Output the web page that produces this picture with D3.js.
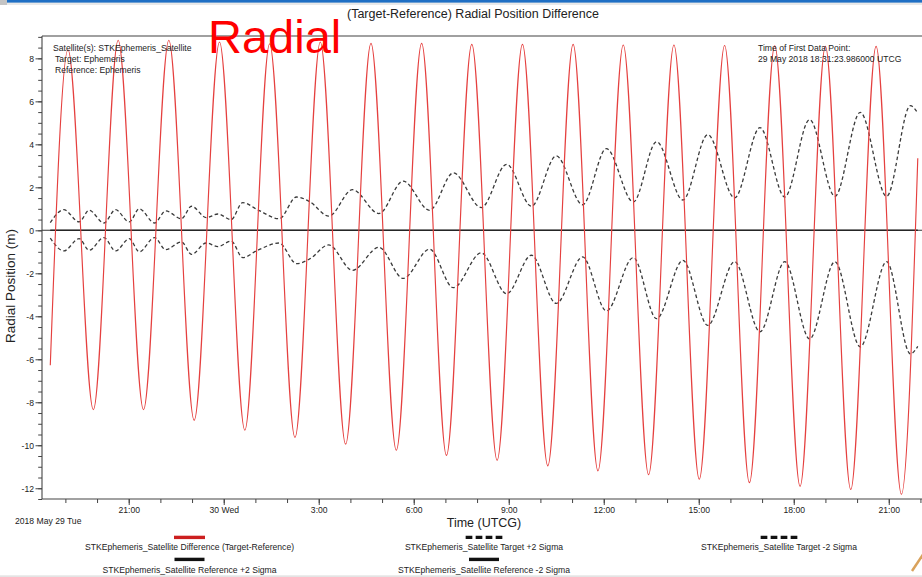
<!DOCTYPE html>
<html>
<head>
<meta charset="utf-8">
<script src="https://cdn.jsdelivr.net/npm/d3@7"></script>
<style>
  html, body { margin: 0; padding: 0; background: #fff; overflow: hidden; }
  svg { display: block; font-family: "Liberation Sans", Arial, sans-serif; }
</style>
</head>
<body>
<svg id="chart" width="922" height="577"></svg>
<script>
// (Target-Reference) radial position difference for STKEphemeris_Satellite,
// with the target and reference 2-sigma envelopes.

// Difference (Target-Reference): first point, then alternating peaks / troughs, last point
const diffTimes = [
  "2018-05-29 18:31:24",
  "2018-05-29 19:05", "2018-05-29 19:53",
  "2018-05-29 20:40", "2018-05-29 21:28",
  "2018-05-29 22:16", "2018-05-29 23:04",
  "2018-05-29 23:52", "2018-05-30 00:40",
  "2018-05-30 01:27", "2018-05-30 02:15",
  "2018-05-30 03:03", "2018-05-30 03:51",
  "2018-05-30 04:39", "2018-05-30 05:27",
  "2018-05-30 06:15", "2018-05-30 07:02",
  "2018-05-30 07:50", "2018-05-30 08:38",
  "2018-05-30 09:26", "2018-05-30 10:14",
  "2018-05-30 11:02", "2018-05-30 11:49",
  "2018-05-30 12:37", "2018-05-30 13:25",
  "2018-05-30 14:13", "2018-05-30 15:01",
  "2018-05-30 15:49", "2018-05-30 16:36",
  "2018-05-30 17:24", "2018-05-30 18:12",
  "2018-05-30 19:00", "2018-05-30 19:48",
  "2018-05-30 20:36", "2018-05-30 21:24",
  "2018-05-30 21:55"
];
const diffValues = [
  -6.28,
  8.40, -8.34, 8.84, -8.34, 8.84, -8.84, 8.76, -9.30, 8.68, -9.64,
  8.76, -9.95, 8.70, -10.23, 8.70, -10.47, 8.65, -10.70, 8.65, -10.96,
  8.65, -11.19, 8.62, -11.37, 8.62, -11.58, 8.60, -11.74, 8.58, -11.91,
  8.56, -12.06, 8.56, -12.28,
  3.35
];

// Target +/-2 sigma envelope
const sigmaTimes = [
  "2018-05-29 18:31:24", "2018-05-29 18:57", "2018-05-29 19:26", "2018-05-29 19:45",
  "2018-05-29 20:13", "2018-05-29 20:35", "2018-05-29 21:01", "2018-05-29 21:20",
  "2018-05-29 21:49", "2018-05-29 22:10", "2018-05-29 22:40", "2018-05-29 22:59",
  "2018-05-29 23:27", "2018-05-29 23:49", "2018-05-30 00:14", "2018-05-30 00:36",
  "2018-05-30 01:04", "2018-05-30 01:45", "2018-05-30 02:18", "2018-05-30 02:43",
  "2018-05-30 03:19", "2018-05-30 04:04", "2018-05-30 04:54", "2018-05-30 05:40",
  "2018-05-30 06:30", "2018-05-30 07:15", "2018-05-30 08:08", "2018-05-30 08:56",
  "2018-05-30 09:43", "2018-05-30 10:30", "2018-05-30 11:20", "2018-05-30 12:05",
  "2018-05-30 12:56", "2018-05-30 13:40", "2018-05-30 14:30", "2018-05-30 15:17",
  "2018-05-30 16:08", "2018-05-30 16:56", "2018-05-30 17:43", "2018-05-30 18:30",
  "2018-05-30 19:18", "2018-05-30 20:06", "2018-05-30 20:56", "2018-05-30 21:41",
  "2018-05-30 21:55"
];
const targetPlus2Sigma = [
  0.36, 0.96, 0.39, 0.93, 0.34, 0.96, 0.39, 1.00, 0.34, 0.90,
  0.54, 1.12, 0.59, 0.76, 0.50, 1.29, 0.96, 0.54, 1.55, 1.33,
  0.66, 1.89, 0.78, 2.29, 0.93, 2.67, 1.06, 3.07, 1.12, 3.46,
  1.19, 3.80, 1.32, 4.12, 1.41, 4.45, 1.51, 4.78, 1.55, 5.15,
  1.58, 5.49, 1.58, 5.80, 5.45
];
const targetMinus2Sigma = [
  -0.36, -0.96, -0.39, -0.93, -0.34, -0.96, -0.39, -1.00, -0.34, -0.90,
  -0.54, -1.12, -0.59, -0.76, -0.50, -1.27, -0.93, -0.59, -1.55, -1.33,
  -0.68, -1.86, -0.79, -2.24, -0.88, -2.67, -1.05, -2.95, -1.16, -3.40,
  -1.24, -3.75, -1.27, -4.11, -1.40, -4.42, -1.46, -4.72, -1.46, -5.05,
  -1.46, -5.42, -1.46, -5.75, -5.40
];

// Reference ephemeris carries no covariance: its envelope sits on zero
const referenceTimes = ["2018-05-29 18:31:24", "2018-05-30 21:55"];
const referencePlus2Sigma = [0, 0];
const referenceMinus2Sigma = [0, 0];

// Axis ticks
const yMajorTicks = [-12, -10, -8, -6, -4, -2, 0, 2, 4, 6, 8];
const xMajorTickTimes = [
  "2018-05-29 21:00", "2018-05-30 00:00", "2018-05-30 03:00", "2018-05-30 06:00",
  "2018-05-30 09:00", "2018-05-30 12:00", "2018-05-30 15:00", "2018-05-30 18:00",
  "2018-05-30 21:00"
];
const xMajorTickLabels = ["21:00", "30 Wed", "3:00", "6:00", "9:00", "12:00", "15:00", "18:00", "21:00"];

const legendLabels = [
  "STKEphemeris_Satellite Difference (Target-Reference)",
  "STKEphemeris_Satellite Target +2 Sigma",
  "STKEphemeris_Satellite Target -2 Sigma",
  "STKEphemeris_Satellite Reference +2 Sigma",
  "STKEphemeris_Satellite Reference -2 Sigma"
];

// ---------------------------------------------------------------------------
const parseSec = d3.utcParse("%Y-%m-%d %H:%M:%S");
const parseMin = d3.utcParse("%Y-%m-%d %H:%M");
const toDate = s => parseSec(s) || parseMin(s);
const series = (times, values) => times.map((t, i) => ({ t: toDate(t), v: values[i] }));

const W = 922, H = 577;
const plot = { left: 42, top: 36, bottom: 499, right: 922 };
const smallFont = 8.6;

const svg = d3.select("#chart");

const x = d3.scaleUtc()
  .domain([toDate("2018-05-29 18:15:42"), toDate("2018-05-30 22:10:00")])
  .range([plot.left, 925.7]);
const y = d3.scaleLinear()
  .domain([-12.5, 9.04])
  .range([plot.bottom, plot.top]);

// page chrome
svg.append("rect").attr("x", 0).attr("y", 0).attr("width", W).attr("height", 5).attr("fill", "#e9e9e9");
svg.append("rect").attr("x", 0).attr("y", 0).attr("width", 7).attr("height", 5).attr("fill", "#c4c4c4");
svg.append("rect").attr("x", 7).attr("y", 0).attr("width", W - 7).attr("height", 2.6).attr("fill", "#1f6fc4");
svg.append("rect").attr("x", 0).attr("y", 575.3).attr("width", W).attr("height", 2).attr("fill", "#e4e4e4");

// title
svg.append("text")
  .attr("x", 347).attr("y", 18)
  .attr("font-size", 12.5).attr("fill", "#222")
  .text("(Target-Reference) Radial Position Difference");

// plot clip
svg.append("clipPath").attr("id", "plotClip")
  .append("rect")
  .attr("x", plot.left).attr("y", plot.top)
  .attr("width", plot.right - plot.left).attr("height", plot.bottom - plot.top);

const g = svg.append("g").attr("clip-path", "url(#plotClip)");

const line = d3.line()
  .x(d => x(d.t))
  .y(d => y(d.v))
  .curve(d3.curveMonotoneX);

// zero line
g.append("line")
  .attr("x1", plot.left).attr("x2", plot.right)
  .attr("y1", y(0)).attr("y2", y(0))
  .attr("stroke", "#333").attr("stroke-width", 1.1);

// reference envelope
[referencePlus2Sigma, referenceMinus2Sigma].forEach(vals => {
  g.append("path")
    .datum(series(referenceTimes, vals))
    .attr("d", line)
    .attr("fill", "none").attr("stroke", "#222").attr("stroke-width", 1.1);
});

// target envelope
[targetPlus2Sigma, targetMinus2Sigma].forEach(vals => {
  g.append("path")
    .datum(series(sigmaTimes, vals))
    .attr("d", line)
    .attr("fill", "none").attr("stroke", "#3a3a3a")
    .attr("stroke-width", 1.3).attr("stroke-dasharray", "3.6,2.6");
});

// difference
g.append("path")
  .datum(series(diffTimes, diffValues))
  .attr("d", line)
  .attr("fill", "none").attr("stroke", "#e5403f").attr("stroke-width", 1.15);

// frame
svg.append("line")
  .attr("x1", plot.left).attr("x2", plot.right).attr("y1", plot.top).attr("y2", plot.top)
  .attr("stroke", "#808080").attr("stroke-width", 1.3);
svg.append("line")
  .attr("x1", plot.left).attr("x2", plot.left).attr("y1", plot.top).attr("y2", plot.bottom)
  .attr("stroke", "#444").attr("stroke-width", 1.1);
svg.append("line")
  .attr("x1", plot.left).attr("x2", plot.right).attr("y1", plot.bottom).attr("y2", plot.bottom)
  .attr("stroke", "#444").attr("stroke-width", 1.1);

// y axis
const yMinor = d3.range(-12.5, 9.01, 0.5);
svg.append("g")
  .attr("transform", `translate(${plot.left},0)`)
  .call(d3.axisLeft(y).tickValues(yMinor).tickSize(3.8).tickFormat(""))
  .call(a => a.select(".domain").remove())
  .call(a => a.selectAll("line").attr("stroke", "#444"));
svg.append("g")
  .attr("transform", `translate(${plot.left},0)`)
  .call(d3.axisLeft(y).tickValues(yMajorTicks).tickSize(6.5).tickPadding(1.5).tickFormat(d => String(d)))
  .call(a => a.select(".domain").remove())
  .call(a => a.selectAll("line").attr("stroke", "#444"))
  .call(a => a.selectAll("text").attr("font-size", smallFont).attr("font-family", null).attr("fill", "#222"));

// x axis
const xMinor = d3.utcHour.range(toDate("2018-05-29 19:00"), toDate("2018-05-30 22:30"));
svg.append("g")
  .attr("transform", `translate(0,${plot.bottom})`)
  .call(d3.axisBottom(x).tickValues(xMinor).tickSize(4).tickFormat(""))
  .call(a => a.select(".domain").remove())
  .call(a => a.selectAll("line").attr("stroke", "#444"));
svg.append("g")
  .attr("transform", `translate(0,${plot.bottom})`)
  .call(d3.axisBottom(x)
    .tickValues(xMajorTickTimes.map(toDate))
    .tickSize(6).tickPadding(2)
    .tickFormat((d, i) => xMajorTickLabels[i]))
  .call(a => a.select(".domain").remove())
  .call(a => a.selectAll("line").attr("stroke", "#444"))
  .call(a => a.selectAll("text").attr("font-size", smallFont).attr("font-family", null).attr("fill", "#222"));

svg.append("text")
  .attr("x", 15).attr("y", 524)
  .attr("font-size", smallFont).attr("fill", "#222")
  .text("2018 May 29 Tue");

// axis titles
svg.append("text")
  .attr("x", 484).attr("y", 527)
  .attr("text-anchor", "middle")
  .attr("font-size", 12.5).attr("fill", "#222")
  .text("Time (UTCG)");
svg.append("text")
  .attr("transform", "translate(15,286) rotate(-90)")
  .attr("text-anchor", "middle")
  .attr("font-size", 13.5).attr("fill", "#222")
  .text("Radial Position (m)");

// info text inside plot
const infoLeft = svg.append("g").attr("font-size", smallFont).attr("fill", "#222");
infoLeft.append("text").attr("x", 53).attr("y", 51).text("Satellite(s): STKEphemeris_Satellite");
infoLeft.append("text").attr("x", 55).attr("y", 62).text("Target: Ephemeris");
infoLeft.append("text").attr("x", 55).attr("y", 73).text("Reference: Ephemeris");

const infoRight = svg.append("g").attr("font-size", smallFont).attr("fill", "#222");
infoRight.append("text").attr("x", 758).attr("y", 51).text("Time of First Data Point:");
infoRight.append("text").attr("x", 758).attr("y", 62).text("29 May 2018 18:31:23.986000 UTCG");

// legend
const legendCols = [189.5, 484, 779];
const legendRows = [{ swatch: 537.4, text: 550 }, { swatch: 559.4, text: 572.6 }];
const legendItems = [
  { label: legendLabels[0], col: 0, row: 0, color: "#cc1f1f", dash: null, w: 31 },
  { label: legendLabels[1], col: 1, row: 0, color: "#111", dash: "6.7,3.3", w: 36.7 },
  { label: legendLabels[2], col: 2, row: 0, color: "#111", dash: "6.7,3.3", w: 36.7 },
  { label: legendLabels[3], col: 0, row: 1, color: "#111", dash: null, w: 30 },
  { label: legendLabels[4], col: 1, row: 1, color: "#111", dash: null, w: 30 }
];
const lg = svg.append("g");
legendItems.forEach(it => {
  const cx = legendCols[it.col], r = legendRows[it.row];
  lg.append("line")
    .attr("x1", cx - it.w / 2).attr("x2", cx + it.w / 2)
    .attr("y1", r.swatch).attr("y2", r.swatch)
    .attr("stroke", it.color).attr("stroke-width", 3.4)
    .attr("stroke-dasharray", it.dash);
  lg.append("text")
    .attr("x", cx).attr("y", r.text)
    .attr("text-anchor", "middle")
    .attr("font-size", smallFont).attr("fill", "#222")
    .text(it.label);
});

// slide annotation
svg.append("text")
  .attr("x", 208).attr("y", 53)
  .attr("font-size", 47).attr("fill", "#ff0000")
  .text("Radial");

svg.append("line")
  .attr("x1", 912).attr("y1", 571).attr("x2", 924).attr("y2", 553)
  .attr("stroke", "#d9a25c").attr("stroke-width", 2.5);
</script>
</body>
</html>
